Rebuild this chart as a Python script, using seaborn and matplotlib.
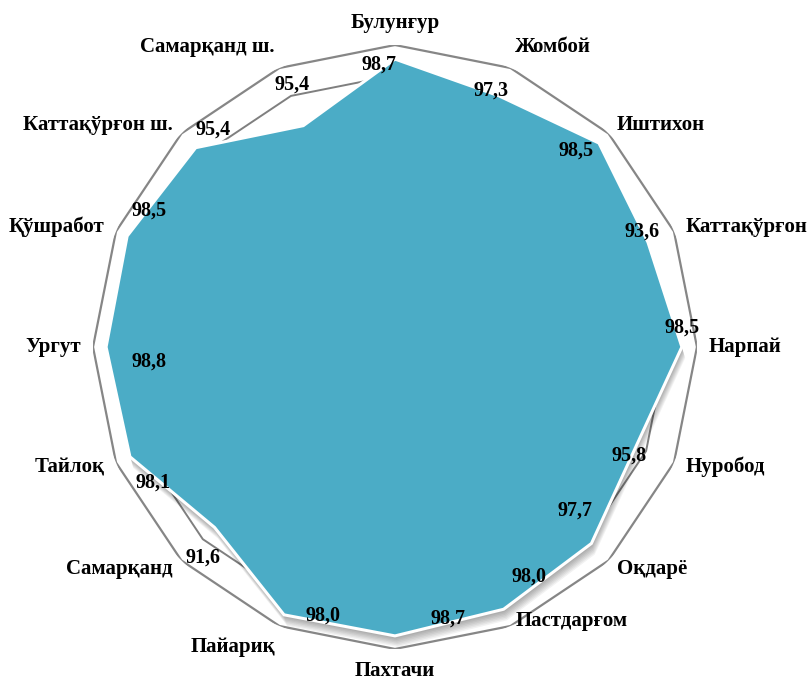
import numpy as np
import pandas as pd
import matplotlib
matplotlib.use("Agg")
import matplotlib.pyplot as plt
import seaborn as sns
from matplotlib import patheffects as pe

# ---------------- data ----------------
categories = ["Булунғур", "Жомбой", "Иштихон", "Каттақўрғон", "Нарпай", "Нуробод",
              "Оқдарё", "Пастдарғом", "Пахтачи", "Пайариқ", "Самарқанд", "Тайлоқ",
              "Ургут", "Қўшработ", "Каттақўрғон ш.", "Самарқанд ш."]
label_values = [98.7, 97.3, 98.5, 93.6, 98.5, 95.8, 97.7, 98.0,
                98.7, 98.0, 91.6, 98.1, 98.8, 98.5, 95.4, 95.4]
area_values = [98.6, 97.0, 98.65, 97.2, 98.5, 95.9, 97.6, 98.2,
               98.7, 98.8, 95.35, 98.5, 98.7, 98.8, 98.0, 93.8]
line_values = [97.0, 97.0, 97.0, 97.0, 97.0, 97.0, 97.0, 97.0,
               97.0, 97.0, 97.0, 97.0, 97.0, 97.0, 97.0, 97.0]
axis_min, axis_max = 70, 100

# ---------------- layout ----------------
value_offsets_px = [(-16, 5), (-8, -5), (-23, 8), (-6, -11), (0, -19), (-7, 9),
                    (-16, -33), (25, -33), (53, -17), (39, 1), (-12, 30), (23, 26),
                    (43, 15), (22, -25), (17, -18), (-11, -41)]
category_nudges_px = {"Пастдарғом": (0, -26)}

TEAL = "#4BACC6"
GRAY = "#868686"

sns.set_theme(style="white")
plt.rcParams["font.family"] = ["Liberation Serif", "DejaVu Serif"]

n = len(categories)
theta = np.linspace(0, 2 * np.pi, n, endpoint=False)
theta_c = np.append(theta, 2 * np.pi)

df = pd.DataFrame({
    "theta": theta_c,
    "area": area_values + area_values[:1],
    "line": line_values + line_values[:1],
    "outer": [axis_max] * (n + 1),
})

fig = plt.figure(figsize=(8.07, 6.84), dpi=100)
ax = fig.add_axes([0.1152, 0.0512, 0.7485, 0.883], projection="polar")
ax.set_theta_offset(np.pi / 2)
ax.set_theta_direction(-1)

# outer grid polygon
sns.lineplot(data=df, x="theta", y="outer", ax=ax, color=GRAY, lw=1.6,
             sort=False, zorder=1)
# average line series
sns.lineplot(data=df, x="theta", y="line", ax=ax, color="#7F7F7F", lw=1.4,
             sort=False, zorder=2)

shadows = [pe.SimplePatchShadow(offset=(0.3 * k, -1.0 * k), shadow_rgbFace="black",
                                alpha=0.05) for k in range(1, 9)]
ax.fill(df["theta"], df["area"], facecolor=TEAL, edgecolor="white", lw=2.2,
        zorder=3, path_effects=shadows + [pe.Normal()])

ax.set_ylim(axis_min, axis_max)
ax.set_xticks([])
ax.set_yticks([])
ax.grid(False)
ax.spines["polar"].set_visible(False)
ax.set_xlabel("")
ax.set_ylabel("")

# category labels
label_r = axis_max + 0.04 * (axis_max - axis_min)
for t, name in zip(theta, categories):
    s, c = np.sin(t), np.cos(t)
    ha = "left" if s > 0.1 else ("right" if s < -0.1 else "center")
    va = "bottom" if c > 0.9 else ("top" if c < -0.9 else "center")
    dx, dy = category_nudges_px.get(name, (0, 0))
    ax.annotate(name, xy=(t, label_r), xytext=(dx, -dy), textcoords="offset pixels",
                ha=ha, va=va, fontsize=15, fontweight="bold", color="black",
                annotation_clip=False, zorder=6)

# value labels
for t, v, val, (dx, dy) in zip(theta, area_values, label_values, value_offsets_px):
    ax.annotate(f"{val:.1f}".replace(".", ","), xy=(t, v), xytext=(dx, -dy),
                textcoords="offset pixels", ha="center", va="center",
                fontsize=14.5, fontweight="bold", color="black",
                annotation_clip=False, zorder=6)

fig.savefig("out.png", dpi=100, facecolor="white")
